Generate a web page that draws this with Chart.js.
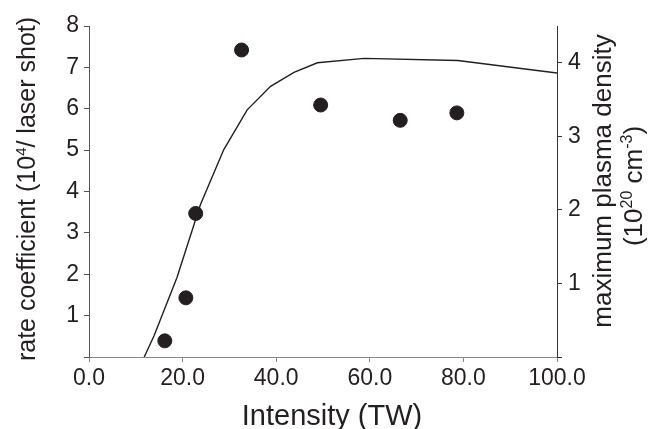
<!DOCTYPE html>
<html>
<head>
<meta charset="utf-8">
<script src="https://cdn.jsdelivr.net/npm/chart.js@4/dist/chart.umd.min.js"></script>
<style>
  html, body { margin: 0; padding: 0; background: #fff; }
  #wrap { width: 660px; height: 429px; }
</style>
</head>
<body>
<div id="wrap"><canvas id="chart"></canvas></div>
<script>
// measured points: rate coefficient vs intensity
const intensity = [16.2, 20.7, 22.8, 32.6, 49.5, 66.5, 78.6];
const rate = [0.39, 1.43, 3.47, 7.42, 6.09, 5.72, 5.90];

// simulated max plasma density (right axis)
const densIntensity = [11.8, 13.9, 18.8, 23.8, 28.8, 33.8, 38.8, 43.8, 48.8, 58.8, 78.8, 100];
const density = [0, 0.29, 1.08, 2.07, 2.82, 3.36, 3.68, 3.87, 4.0, 4.06, 4.03, 3.86];

const INK = "#231f20";
const FONT = "'Liberation Sans', Arial, Helvetica, sans-serif";

// draw a vertical title (reads bottom to top) with superscript parts
function drawRotated(ctx, parts, bx, cy, size) {
  const supSize = Math.round(size * 0.6);
  let total = 0;
  parts.forEach(p => {
    ctx.font = (p.sup ? supSize : size) + "px " + FONT;
    p.w = ctx.measureText(p.t).width;
    total += p.w;
  });
  ctx.save();
  ctx.translate(bx, cy);
  ctx.rotate(-Math.PI / 2);
  ctx.textBaseline = "alphabetic";
  ctx.textAlign = "left";
  ctx.fillStyle = INK;
  let x = -total / 2;
  parts.forEach(p => {
    ctx.font = (p.sup ? supSize : size) + "px " + FONT;
    ctx.fillText(p.t, x, p.sup ? -size * 0.38 : 0);
    x += p.w;
  });
  ctx.restore();
}

const titles = {
  id: "titles",
  afterDraw(chart) {
    const ctx = chart.ctx;
    drawRotated(ctx, [{t: "rate coefficient (10"}, {t: "4", sup: true}, {t: "/ laser shot)"}], 35, 189, 25);
    drawRotated(ctx, [{t: "maximum plasma density"}], 611, 181, 26);
    drawRotated(ctx, [{t: "(10"}, {t: "20", sup: true}, {t: " cm"}, {t: "-3", sup: true}, {t: ")"}], 642, 186, 26);
    ctx.save();
    ctx.font = "29px " + FONT;
    ctx.fillStyle = INK;
    ctx.textAlign = "center";
    ctx.textBaseline = "alphabetic";
    ctx.fillText("Intensity (TW)", 332, 425);
    ctx.restore();
  }
};

new Chart(document.getElementById("chart"), {
  type: "scatter",
  data: {
    datasets: [
      {
        label: "rate",
        data: intensity.map((x, i) => ({x: x, y: rate[i]})),
        yAxisID: "y",
        backgroundColor: INK,
        borderColor: INK,
        pointRadius: 7,
        pointHoverRadius: 7,
        order: 1
      },
      {
        label: "density",
        data: densIntensity.map((x, i) => ({x: x, y: density[i]})),
        yAxisID: "y2",
        showLine: true,
        borderColor: INK,
        borderWidth: 1.4,
        pointRadius: 0,
        tension: 0,
        fill: false,
        order: 2
      }
    ]
  },
  options: {
    responsive: true,
    maintainAspectRatio: false,
    animation: false,
    layout: { padding: { top: 26, left: 0, right: 0, bottom: 0 } },
    plugins: { legend: { display: false }, tooltip: { enabled: false } },
    scales: {
      x: {
        type: "linear",
        min: 0,
        max: 100,
        afterFit: s => { s.height = 72; },
        ticks: {
          stepSize: 20,
          color: INK,
          font: { family: FONT, size: 23 },
          padding: 3,
          maxRotation: 0,
          callback: v => v.toFixed(1)
        },
        grid: { drawOnChartArea: false, drawTicks: true, tickLength: 5, color: "#888" },
        border: { color: "#888", width: 1 }
      },
      y: {
        position: "left",
        min: 0,
        max: 8,
        afterFit: s => { s.width = 89; },
        ticks: {
          stepSize: 1,
          color: INK,
          font: { family: FONT, size: 23 },
          padding: 5,
          callback: v => v === 0 ? "" : v
        },
        grid: { drawOnChartArea: false, drawTicks: true, tickLength: 5, color: "#555" },
        border: { color: "#555", width: 1 }
      },
      y2: {
        position: "right",
        min: 0,
        max: 4.5,
        afterFit: s => { s.width = 103; },
        ticks: {
          stepSize: 1,
          includeBounds: false,
          color: INK,
          font: { family: FONT, size: 23 },
          padding: 6,
          callback: v => v === 0 ? "" : v
        },
        grid: { drawOnChartArea: false, drawTicks: true, tickLength: 5, color: "#333" },
        border: { color: "#333", width: 1 }
      }
    }
  },
  plugins: [titles]
});
</script>
</body>
</html>
